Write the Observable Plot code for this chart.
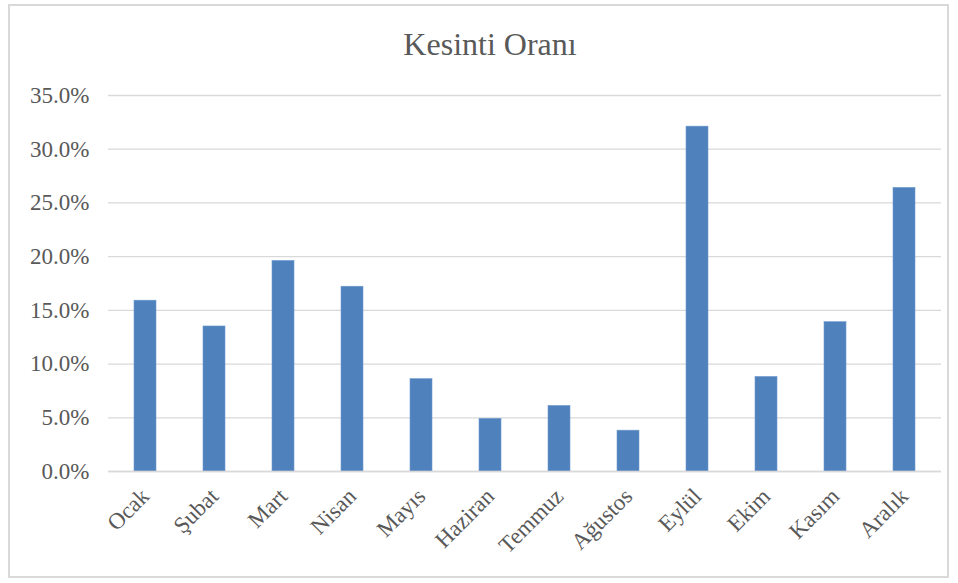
<!DOCTYPE html>
<html>
<head>
<meta charset="utf-8">
<script src="https://cdn.jsdelivr.net/npm/d3@7"></script>
<script src="https://cdn.jsdelivr.net/npm/@observablehq/plot@0.6"></script>
<style>
  html, body { margin: 0; padding: 0; background: #fff; }
  #wrap { position: relative; width: 958px; height: 583px; overflow: hidden; }
  #border { position: absolute; left: 8px; top: 4px; width: 941px; height: 574px; border: 2px solid #d9d9d9; box-sizing: border-box; pointer-events: none; }
  #chart { position: absolute; left: 0; top: 0; }
</style>
</head>
<body>
<div id="wrap"><div id="chart"></div><div id="border"></div></div>
<script>
const months = ["Ocak","Şubat","Mart","Nisan","Mayıs","Haziran","Temmuz","Ağustos","Eylül","Ekim","Kasım","Aralık"];
const rates = [0.159, 0.135, 0.196, 0.172, 0.086, 0.049, 0.061, 0.038, 0.321, 0.088, 0.139, 0.264];
const yTicks = [0, 0.05, 0.10, 0.15, 0.20, 0.25, 0.30, 0.35];
const title = "Kesinti Oranı";

const data = months.map((m, i) => ({month: m, rate: rates[i]}));
const textColor = "#595959";
const font = "'Liberation Serif', 'Times New Roman', serif";

const chart = Plot.plot({
  width: 958,
  height: 583,
  marginTop: 95,
  marginLeft: 108,
  marginRight: 17,
  marginBottom: 112,
  style: {fontFamily: font, fontSize: "23px", color: textColor, background: "transparent"},
  x: {domain: months, paddingInner: 0.683, paddingOuter: 0.3415, label: null},
  y: {domain: [0, 0.35], label: null},
  marks: [
    Plot.gridY(yTicks, {stroke: "#d9d9d9", strokeOpacity: 1, strokeWidth: 1.3}),
    Plot.barY(data, {x: "month", y: "rate", fill: "#4F81BD", stroke: "#6f9bd0", strokeWidth: 0.6}),
    Plot.ruleY([0], {stroke: "#d9d9d9", strokeWidth: 1.5}),
    Plot.axisY(yTicks, {tickFormat: d3.format(".1%"), tickSize: 0, tickPadding: 19, fill: textColor, fontSize: 23, label: null}),
    Plot.axisX({tickSize: 0, tickPadding: 21, tickRotate: -45, fill: textColor, fontSize: 23, label: null}),
    Plot.text([title], {frameAnchor: "top", dx: -35, dy: -63, text: d => d, fontSize: 32, fill: textColor, fontFamily: font})
  ]
});
document.getElementById("chart").appendChild(chart);
</script>
</body>
</html>
